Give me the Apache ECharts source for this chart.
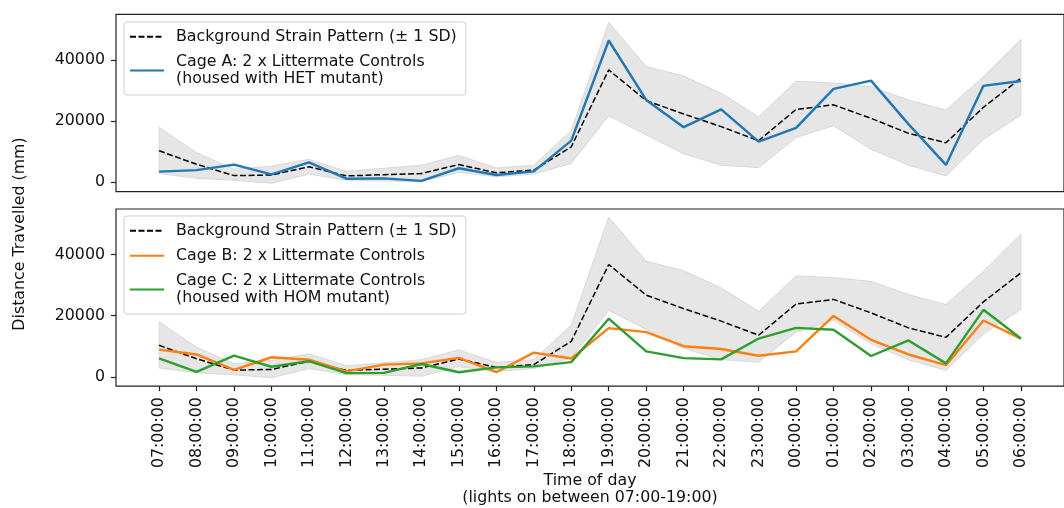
<!DOCTYPE html>
<html>
<head>
<meta charset="utf-8">
<script src="https://cdn.jsdelivr.net/npm/echarts@6/dist/echarts.min.js"></script>
<style>html,body{margin:0;padding:0;background:#fff;}#c{width:1064px;height:508px;}</style>
</head>
<body>
<div id="c"></div>
<script>
const hours = ['07:00:00','08:00:00','09:00:00','10:00:00','11:00:00','12:00:00','13:00:00','14:00:00','15:00:00','16:00:00','17:00:00','18:00:00','19:00:00','20:00:00','21:00:00','22:00:00','23:00:00','00:00:00','01:00:00','02:00:00','03:00:00','04:00:00','05:00:00','06:00:00'];
const meanVals  = [10300, 5900, 2200, 2400, 5100, 2100, 2500, 2900, 5800, 3100, 4000, 11600, 36700, 26700, 22300, 18200, 13600, 23800, 25300, 20900, 16000, 12900, 24500, 34000];
const upperVals = [18000, 9700, 4300, 5300, 7500, 3600, 4600, 5600, 8800, 4700, 5600, 16900, 52200, 37800, 34700, 29100, 21400, 33000, 32400, 31200, 26900, 23600, 34500, 46700];
const lowerVals = [2900, 1300, 700, -300, 2700, 700, 500, 200, 3300, 1800, 2700, 6200, 21700, 15500, 9300, 5600, 4800, 14600, 18500, 10800, 5600, 2100, 14000, 22000];
const cageA = [3500, 4000, 5800, 2600, 6500, 1200, 1300, 500, 4600, 2400, 3600, 13600, 46300, 26900, 18000, 23800, 13300, 17800, 30500, 33200, 19000, 5700, 31500, 33100];
const cageB = [8900, 7300, 2300, 6400, 5600, 1800, 4000, 4400, 6200, 1500, 7900, 6000, 15900, 14600, 10000, 9100, 6900, 8300, 19900, 12100, 7300, 3800, 18400, 12500];
const cageC = [6000, 1600, 6900, 3300, 5100, 1200, 1300, 4200, 1500, 3100, 3400, 4800, 19000, 8300, 6100, 5700, 12500, 16000, 15400, 6800, 11900, 4400, 21900, 12500];
const yTicks = [0, 20000, 40000];

const NAME_BG = 'Background Strain Pattern (\u00b1 1 SD)';
const NAME_A = 'Cage A: 2 x Littermate Controls\n(housed with HET mutant)';
const NAME_B = 'Cage B: 2 x Littermate Controls';
const NAME_C = 'Cage C: 2 x Littermate Controls\n(housed with HOM mutant)';

const FONT = 'DejaVu Sans';
const FS = 15.8;
const TXT = '#111';
const idx = hours.map((h, i) => i);
const pts = arr => arr.map((v, i) => [i, v]);

function xAxis(gi, showLabels) {
  return {
    type: 'value', gridIndex: gi, min: -1.15, max: 24.15,
    splitLine: {show: false}, axisLine: {show: false, onZero: false},
    axisTick: {show: showLabels, length: 5, lineStyle: {color: '#222', width: 1.2}, customValues: idx},
    axisLabel: {show: showLabels, rotate: 90, margin: 11, fontFamily: FONT, fontSize: FS, color: TXT,
      customValues: idx, formatter: v => hours[Math.round(v)] || ''},
    name: showLabels ? 'Time of day\n(lights on between 07:00-19:00)' : '',
    nameLocation: 'middle', nameGap: 85,
    nameTextStyle: {fontFamily: FONT, fontSize: FS, color: TXT, lineHeight: 17.5}
  };
}
function yAxis(gi) {
  return {
    type: 'value', gridIndex: gi, min: -3050, max: 54850,
    splitLine: {show: false}, axisLine: {show: false, onZero: false},
    axisTick: {show: true, length: 5, lineStyle: {color: '#222', width: 1.2}, customValues: yTicks},
    axisLabel: {margin: 11, fontFamily: FONT, fontSize: FS, color: TXT, customValues: yTicks,
      formatter: v => String(v), padding: [3, 0, 0, 0]}
  };
}
function band(gi) {
  return {
    type: 'custom', name: 'sd-band', xAxisIndex: gi, yAxisIndex: gi, silent: true, z: 1,
    data: idx.map(i => [i, lowerVals[i], upperVals[i]]),
    encode: {x: 0, y: [1, 2]},
    renderItem: (params, api) => {
      if (params.dataIndexInside !== 0) return null;
      const n = params.dataInsideLength;
      const up = [], lo = [];
      for (let k = 0; k < n; k++) {
        up.push(api.coord([api.value(0, k), api.value(2, k)]));
        lo.push(api.coord([api.value(0, k), api.value(1, k)]));
      }
      return {
        type: 'polygon',
        shape: {points: up.concat(lo.slice().reverse())},
        style: {fill: '#e6e6e6', stroke: '#d9d9d9', lineWidth: 1}
      };
    }
  };
}
function lineS(gi, name, vals, color, dashed) {
  return {type: 'line', name, xAxisIndex: gi, yAxisIndex: gi, data: pts(vals), symbol: 'none',
    lineStyle: dashed ? {color: '#000', width: 1.5, type: [6, 2.5]} : {color, width: 2.4},
    itemStyle: {color: dashed ? '#000' : color}, z: dashed ? 3 : 4};
}
function legend(top, names) {
  return {
    orient: 'vertical', left: 124, top, data: names, itemWidth: 34, itemHeight: 14, itemGap: 7.5,
    padding: [6, 9, 7, 5], backgroundColor: 'rgba(255,255,255,0.85)', borderColor: '#cfcfcf',
    borderWidth: 1, borderRadius: 3,
    itemStyle: {opacity: 0},
    textStyle: {fontFamily: FONT, fontSize: FS, color: TXT, lineHeight: 17.5, padding: [0, 0, 0, 7]}
  };
}

const chart = echarts.init(document.getElementById('c'), null, {renderer: 'canvas'});
chart.setOption({
  animation: false,
  backgroundColor: '#fff',
  grid: [
    {left: 116, top: 14.3, width: 960, height: 177.4, show: true, borderColor: '#222', borderWidth: 1.2, backgroundColor: 'transparent'},
    {left: 116, top: 209, width: 960, height: 177.7, show: true, borderColor: '#222', borderWidth: 1.2, backgroundColor: 'transparent'}
  ],
  xAxis: [xAxis(0, false), xAxis(1, true)],
  yAxis: [yAxis(0), yAxis(1)],
  legend: [legend(22, [NAME_BG, NAME_A]), legend(216, [NAME_BG, NAME_B, NAME_C])],
  graphic: [{type: 'text', x: 20, y: 234, rotation: Math.PI / 2,
    style: {text: 'Distance Travelled (mm)', font: FS + 'px "DejaVu Sans"', fill: TXT, align: 'center', verticalAlign: 'middle'}}],
  series: [
    band(0),
    lineS(0, NAME_BG, meanVals, '#000', true),
    lineS(0, NAME_A, cageA, '#1f77b4', false),
    band(1),
    lineS(1, NAME_BG, meanVals, '#000', true),
    lineS(1, NAME_B, cageB, '#ff7f0e', false),
    lineS(1, NAME_C, cageC, '#2ca02c', false)
  ]
});
</script>
</body>
</html>
